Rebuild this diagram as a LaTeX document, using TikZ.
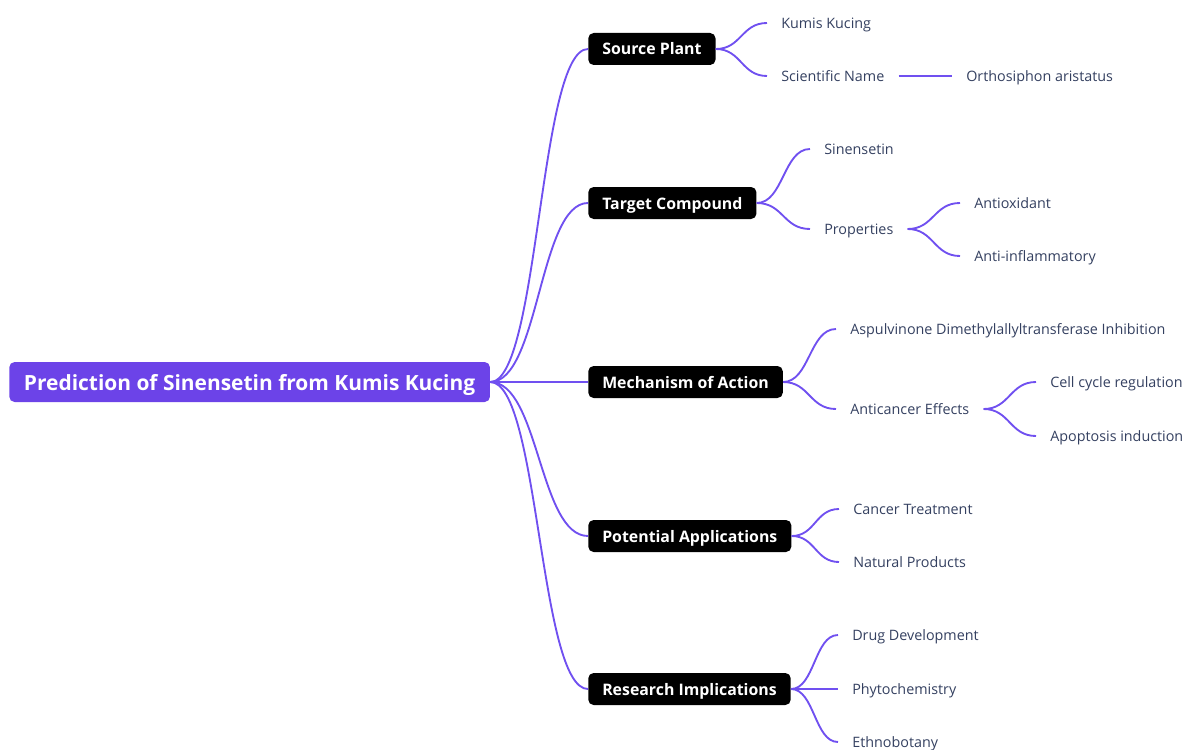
\documentclass[tikz,border=0pt]{standalone}
\usepackage{fontspec}
\setmainfont{Open Sans}
\usetikzlibrary{calc}

\definecolor{rootpurple}{RGB}{108,67,232}
\definecolor{linepurple}{RGB}{112,80,240}
\definecolor{leaftext}{RGB}{52,64,96}

\begin{document}
\begin{tikzpicture}[x=0.75pt,y=-0.75pt,
  rootbox/.style={fill=rootpurple, text=white, rounded corners=4pt, anchor=west, inner xsep=11pt, minimum height=30pt, text height=12pt, text depth=0pt, font=\fontsize{15.7}{18}\selectfont\bfseries},
  topic/.style={fill=black, text=white, rounded corners=4pt, anchor=west, inner xsep=10.5pt, minimum height=24pt, text height=9pt, text depth=0pt, font=\fontsize{11.9}{13}\selectfont\bfseries},
  leaf/.style={anchor=west, inner xsep=10.5pt, text=leaftext, text height=8.5pt, text depth=0pt, font=\fontsize{10.75}{12}\selectfont},
  branch/.style={draw=linepurple, line width=1.4pt,
    to path={let \p1=(\tikztostart), \p2=(\tikztotarget) in
      .. controls ({(\x1+\x2)/2},\y1) and ({(\x1+\x2)/2},\y2) .. (\tikztotarget)}}]
\useasboundingbox (0,0) rectangle (1187,749);

\node[rootbox] (root) at (9,382) {Prediction of Sinensetin from Kumis Kucing};

\node[topic] (plant) at (588,49) {Source Plant};
\node[topic] (target) at (588,203) {Target Compound};
\node[topic] (mech) at (588,382) {Mechanism of Action};
\node[topic] (appl) at (588,536) {Potential Applications};
\node[topic] (research) at (588,689) {Research Implications};

% source plant
\node[leaf] (kumis) at (767,23) {Kumis Kucing};
\node[leaf] (sciname) at (767,76) {Scientific Name};
\node[leaf] (ortho) at (952,76) {Orthosiphon aristatus};

% target compound
\node[leaf] (sinen) at (810,149) {Sinensetin};
\node[leaf] (props) at (810,229) {Properties};
\node[leaf] (antiox) at (960,203) {Antioxidant};
\node[leaf] (antiinf) at (960,256) {Anti-inflammatory};

% mechanism
\node[leaf] (aspul) at (836,329) {Aspulvinone Dimethylallyltransferase Inhibition};
\node[leaf] (anticanc) at (836,409) {Anticancer Effects};
\node[leaf] (cellcyc) at (1036,382) {Cell cycle regulation};
\node[leaf] (apopt) at (1036,436) {Apoptosis induction};

% applications
\node[leaf] (cancer) at (839,509) {Cancer Treatment};
\node[leaf] (natural) at (839,562) {Natural Products};

% research
\node[leaf] (drug) at (838,635) {Drug Development};
\node[leaf] (phyto) at (838,689) {Phytochemistry};
\node[leaf] (ethno) at (838,742) {Ethnobotany};

\foreach \t in {plant,target,mech,appl,research}
  \draw[branch] (root.east) to (\t.west);

\draw[branch] (plant.east) to (kumis.west);
\draw[branch] (plant.east) to (sciname.west);
\draw[branch] (sciname.east) to (ortho.west);

\draw[branch] (target.east) to (sinen.west);
\draw[branch] (target.east) to (props.west);
\draw[branch] (props.east) to (antiox.west);
\draw[branch] (props.east) to (antiinf.west);

\draw[branch] (mech.east) to (aspul.west);
\draw[branch] (mech.east) to (anticanc.west);
\draw[branch] (anticanc.east) to (cellcyc.west);
\draw[branch] (anticanc.east) to (apopt.west);

\draw[branch] (appl.east) to (cancer.west);
\draw[branch] (appl.east) to (natural.west);

\draw[branch] (research.east) to (drug.west);
\draw[branch] (research.east) to (phyto.west);
\draw[branch] (research.east) to (ethno.west);
\end{tikzpicture}
\end{document}
